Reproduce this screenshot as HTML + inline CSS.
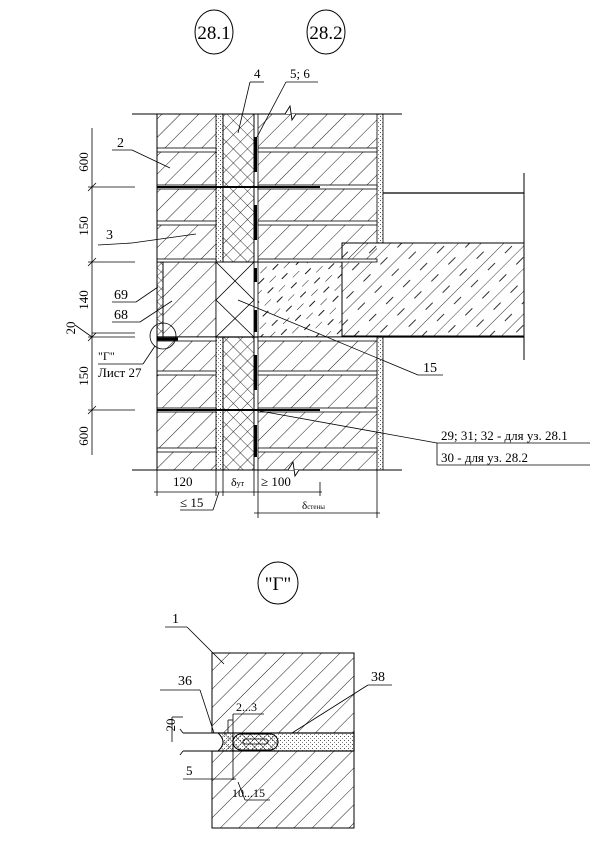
<!DOCTYPE html>
<html><head><meta charset="utf-8"><style>
html,body{margin:0;padding:0;background:#fff;}
svg{display:block;}
text{font-family:"Liberation Serif","DejaVu Serif",serif;fill:#000;}
</style></head><body>
<svg width="603" height="858" viewBox="0 0 603 858" xmlns="http://www.w3.org/2000/svg">
<defs>
<pattern id="h" patternUnits="userSpaceOnUse" width="13" height="13" patternTransform="rotate(45)">
<line x1="0" y1="0" x2="0" y2="13" stroke="#000" stroke-width="0.9"/></pattern>
<pattern id="hd" patternUnits="userSpaceOnUse" width="13" height="20" patternTransform="rotate(45)">
<line x1="0" y1="0" x2="0" y2="9" stroke="#000" stroke-width="0.9"/><line x1="6.5" y1="10" x2="6.5" y2="18" stroke="#000" stroke-width="0.9"/></pattern>
<pattern id="hs" patternUnits="userSpaceOnUse" width="16" height="24" patternTransform="rotate(45)">
<line x1="0" y1="0" x2="0" y2="24" stroke="#000" stroke-width="0.8"/><line x1="8" y1="4" x2="8" y2="14" stroke="#000" stroke-width="0.8"/></pattern>
<pattern id="x" patternUnits="userSpaceOnUse" width="10" height="10" patternTransform="rotate(45)">
<line x1="0" y1="0" x2="0" y2="10" stroke="#000" stroke-width="0.8"/><line x1="0" y1="0" x2="10" y2="0" stroke="#000" stroke-width="0.8"/></pattern>
<pattern id="xs" patternUnits="userSpaceOnUse" width="6" height="6" patternTransform="rotate(45)">
<line x1="0" y1="0" x2="0" y2="6" stroke="#000" stroke-width="0.7"/><line x1="0" y1="0" x2="6" y2="0" stroke="#000" stroke-width="0.7"/></pattern>
<pattern id="d" patternUnits="userSpaceOnUse" width="4" height="4">
<rect width="4" height="4" fill="#fff"/><rect x="0" y="0" width="1" height="1" fill="#555"/><rect x="2" y="2" width="1" height="1" fill="#888"/></pattern>
</defs>

<!-- top labels -->
<ellipse cx="214" cy="32" rx="19" ry="22" fill="none" stroke="#000"/>
<text x="214" y="39" font-size="19" text-anchor="middle">28.1</text>
<ellipse cx="326" cy="32" rx="19" ry="22" fill="none" stroke="#000"/>
<text x="326" y="39" font-size="19" text-anchor="middle">28.2</text>
<text x="254" y="78" font-size="13">4</text>
<line x1="250" y1="82" x2="264" y2="82" stroke="#000" stroke-width="0.8"/>
<line x1="250" y1="82" x2="238" y2="133" stroke="#000" stroke-width="0.8"/>
<text x="290" y="78" font-size="13">5; 6</text>
<line x1="286" y1="82" x2="318" y2="82" stroke="#000" stroke-width="0.8"/>
<line x1="286" y1="82" x2="257" y2="137" stroke="#000" stroke-width="0.8"/>

<!-- inner leaf -->
<rect x="157" y="114" width="59" height="148" fill="url(#h)"/>
<rect x="157" y="337" width="59" height="133" fill="url(#h)"/>
<!-- mortar gap -->
<rect x="216" y="114" width="7" height="148" fill="url(#d)" stroke="#000" stroke-width="0.8"/>
<rect x="216" y="337" width="7" height="133" fill="url(#d)" stroke="#000" stroke-width="0.8"/>
<!-- insulation -->
<rect x="223" y="114" width="31" height="148" fill="url(#x)" stroke="#000" stroke-width="0.8"/>
<rect x="223" y="337" width="31" height="133" fill="url(#x)" stroke="#000" stroke-width="0.8"/>
<!-- outer leaf -->
<rect x="258" y="114" width="119" height="148" fill="url(#h)"/>
<rect x="258" y="337" width="119" height="133" fill="url(#h)"/>
<rect x="258" y="262" width="84" height="75" fill="url(#hd)"/>
<!-- plaster -->
<rect x="377" y="114" width="6" height="129" fill="url(#d)" stroke="#000" stroke-width="0.8"/>
<rect x="377" y="337" width="6" height="133" fill="url(#d)" stroke="#000" stroke-width="0.8"/>
<!-- vapor line -->
<line x1="254" y1="114" x2="254" y2="470" stroke="#000" stroke-width="0.8"/>
<line x1="258" y1="114" x2="258" y2="470" stroke="#000" stroke-width="0.8"/>
<g fill="#000">
<rect x="254" y="137" width="3" height="35"/><rect x="254" y="205" width="3" height="35"/>
<rect x="254" y="268" width="3" height="14"/><rect x="254" y="310" width="3" height="22"/>
<rect x="254" y="355" width="3" height="35"/><rect x="254" y="425" width="3" height="32"/>
</g>
<!-- slab zone in wall -->
<rect x="157" y="262" width="6" height="75" fill="url(#xs)" stroke="#000" stroke-width="0.8"/>
<rect x="163" y="262" width="53" height="75" fill="url(#h)" stroke="#000" stroke-width="0.8"/>
<rect x="216" y="262" width="38" height="75" fill="#fff" stroke="#000" stroke-width="0.8"/>
<path d="M216 262 L254 300 L216 337 M254 262 L216 300 L254 337" stroke="#000" stroke-width="0.8" fill="none"/>
<!-- slab -->
<rect x="342" y="243" width="182" height="93" fill="url(#hs)" stroke="#000" stroke-width="1"/>
<line x1="383" y1="193" x2="524" y2="193" stroke="#000" stroke-width="1.2"/>
<line x1="524" y1="173" x2="524" y2="360" stroke="#000" stroke-width="1"/>
<line x1="157" y1="337" x2="524" y2="337" stroke="#000" stroke-width="1.2"/>
<line x1="157" y1="262" x2="342" y2="262" stroke="#000" stroke-width="1"/>

<!-- joints -->
<g fill="#fff" stroke="#000" stroke-width="0.8">
<rect x="157" y="148" width="59" height="4"/><rect x="258" y="148" width="119" height="4"/>
<rect x="157" y="185" width="59" height="4"/><rect x="258" y="185" width="119" height="4"/>
<rect x="157" y="221" width="59" height="4"/><rect x="258" y="221" width="119" height="4"/>
<rect x="157" y="259" width="59" height="3"/><rect x="258" y="259" width="119" height="3"/>
<rect x="157" y="337" width="59" height="4"/><rect x="258" y="337" width="119" height="4"/>
<rect x="157" y="371" width="59" height="4"/><rect x="258" y="371" width="119" height="4"/>
<rect x="157" y="408" width="59" height="4"/><rect x="258" y="408" width="119" height="4"/>
<rect x="157" y="448" width="59" height="4"/><rect x="258" y="448" width="119" height="4"/>
</g>
<line x1="157" y1="187" x2="320" y2="187" stroke="#000" stroke-width="2"/>
<line x1="157" y1="410" x2="320" y2="410" stroke="#000" stroke-width="2"/>
<line x1="157" y1="339" x2="178" y2="339" stroke="#000" stroke-width="3"/>
<!-- outline -->
<line x1="132" y1="114" x2="402" y2="114" stroke="#000" stroke-width="1"/>
<line x1="132" y1="470" x2="402" y2="470" stroke="#000" stroke-width="1"/>
<line x1="157" y1="114" x2="157" y2="470" stroke="#000" stroke-width="1"/>
<path d="M285 114 L290 106 L292 120 L296 114" fill="#fff" stroke="#000" stroke-width="0.9"/>
<path d="M288 470 L293 462 L295 476 L299 470" fill="#fff" stroke="#000" stroke-width="0.9"/>

<!-- left dimensions -->
<line x1="92" y1="128" x2="92" y2="455" stroke="#000" stroke-width="0.8"/>
<g stroke="#000" stroke-width="0.8">
<line x1="88" y1="187" x2="135" y2="187"/><line x1="88" y1="262" x2="135" y2="262"/>
<line x1="88" y1="337" x2="135" y2="337"/><line x1="92" y1="333" x2="135" y2="333"/>
<line x1="88" y1="410" x2="135" y2="410"/><line x1="75" y1="325" x2="92" y2="337"/>
<line x1="88" y1="191" x2="96" y2="183"/><line x1="88" y1="266" x2="96" y2="258"/>
<line x1="88" y1="341" x2="96" y2="333"/><line x1="88" y1="414" x2="96" y2="406"/>
</g>
<g font-size="13">
<text transform="translate(88 162) rotate(-90)" text-anchor="middle">600</text>
<text transform="translate(88 226) rotate(-90)" text-anchor="middle">150</text>
<text transform="translate(88 300) rotate(-90)" text-anchor="middle">140</text>
<text transform="translate(75 328) rotate(-90)" text-anchor="middle">20</text>
<text transform="translate(88 376) rotate(-90)" text-anchor="middle">150</text>
<text transform="translate(88 436) rotate(-90)" text-anchor="middle">600</text>
</g>
<!-- left labels -->
<g font-size="14" stroke-width="0.8">
<text x="117" y="147">2</text><line x1="112" y1="150" x2="132" y2="150" stroke="#000"/><line x1="132" y1="150" x2="170" y2="168" stroke="#000"/>
<text x="106" y="239">3</text><line x1="98" y1="245" x2="132" y2="243" stroke="#000"/><line x1="132" y1="243" x2="196" y2="234" stroke="#000"/>
<text x="114" y="299">69</text><line x1="112" y1="302" x2="136" y2="302" stroke="#000"/><line x1="136" y1="302" x2="158" y2="287" stroke="#000"/>
<text x="114" y="319">68</text><line x1="112" y1="322" x2="140" y2="322" stroke="#000"/><line x1="140" y1="322" x2="172" y2="301" stroke="#000"/>
<text x="98" y="360" font-size="12">"Г"</text>
<line x1="98" y1="364" x2="143" y2="364" stroke="#000"/>
<text x="98" y="377" font-size="13">Лист 27</text>
<line x1="143" y1="364" x2="155" y2="346" stroke="#000"/>
</g>
<circle cx="163" cy="336" r="13" fill="none" stroke="#000" stroke-width="0.8"/>

<!-- right labels -->
<line x1="238" y1="300" x2="418" y2="375" stroke="#000" stroke-width="0.8"/>
<text x="423" y="372" font-size="14">15</text><line x1="418" y1="375" x2="443" y2="375" stroke="#000" stroke-width="0.8"/>
<line x1="260" y1="411" x2="437" y2="443" stroke="#000" stroke-width="0.8"/>
<text x="441" y="440" font-size="13">29; 31; 32 - для уз. 28.1</text>
<line x1="437" y1="443" x2="590" y2="443" stroke="#000" stroke-width="0.8"/>
<line x1="437" y1="443" x2="437" y2="465" stroke="#000" stroke-width="0.8"/>
<text x="441" y="462" font-size="13">30 - для уз. 28.2</text>
<line x1="437" y1="465" x2="590" y2="465" stroke="#000" stroke-width="0.8"/>

<!-- bottom dims -->
<g stroke="#000" stroke-width="0.8">
<line x1="157" y1="470" x2="157" y2="496"/><line x1="216" y1="470" x2="216" y2="496"/>
<line x1="223" y1="470" x2="223" y2="496"/><line x1="254" y1="470" x2="254" y2="496"/>
<line x1="258" y1="470" x2="258" y2="518"/><line x1="320" y1="482" x2="320" y2="496"/>
<line x1="377" y1="470" x2="377" y2="518"/>
<line x1="154" y1="492" x2="322" y2="492"/>
<line x1="254" y1="513" x2="380" y2="513"/>
<line x1="213" y1="510" x2="219" y2="492"/><line x1="180" y1="510" x2="213" y2="510"/>
</g>
<text x="173" y="486" font-size="13">120</text>
<text x="231" y="486" font-size="12">δ<tspan font-size="8">ут</tspan></text>
<text x="261" y="486" font-size="13">≥ 100</text>
<text x="180" y="507" font-size="13">≤ 15</text>
<text x="302" y="509" font-size="11">δ<tspan font-size="7">стены</tspan></text>

<!-- detail Г -->
<ellipse cx="278" cy="583" rx="20" ry="21" fill="none" stroke="#000"/>
<text x="278" y="590" font-size="19" text-anchor="middle">"Г"</text>
<text x="172" y="623" font-size="14">1</text>
<line x1="165" y1="627" x2="187" y2="627" stroke="#000" stroke-width="0.8"/>
<line x1="187" y1="627" x2="224" y2="664" stroke="#000" stroke-width="0.8"/>
<rect x="212" y="653" width="142" height="175" fill="url(#h)" stroke="#000" stroke-width="1"/>
<rect x="212" y="733" width="142" height="18" fill="url(#d)" stroke="#000" stroke-width="1.2"/>
<path d="M212 733 L233 733 L233 751 L212 751 Q224 742 212 733Z" fill="url(#xs)" stroke="#000" stroke-width="0.8"/>
<rect x="233" y="734" width="45" height="16" rx="8" fill="url(#xs)" stroke="#000" stroke-width="1"/>
<rect x="243" y="739" width="25" height="5" rx="2.5" fill="none" stroke="#000" stroke-width="0.8"/>
<path d="M183 733 L218 733 Q228 742 218 751 L183 751" fill="#fff" stroke="#000" stroke-width="1"/>
<path d="M183 733 l-3 -4 M183 751 l-3 4" stroke="#000" stroke-width="0.8"/>
<text x="178" y="685" font-size="14">36</text>
<line x1="160" y1="690" x2="200" y2="690" stroke="#000" stroke-width="0.8"/>
<line x1="200" y1="690" x2="214" y2="733" stroke="#000" stroke-width="0.8"/>
<text x="371" y="681" font-size="14">38</text>
<line x1="368" y1="685" x2="392" y2="685" stroke="#000" stroke-width="0.8"/>
<line x1="368" y1="685" x2="292" y2="733" stroke="#000" stroke-width="0.8"/>
<g stroke="#000" stroke-width="0.8">
<line x1="228" y1="720" x2="228" y2="733"/><line x1="233" y1="714" x2="233" y2="780"/>
<line x1="228" y1="720" x2="233" y2="720"/><line x1="233" y1="714" x2="264" y2="714"/>
<line x1="212" y1="751" x2="212" y2="780"/><line x1="183" y1="779" x2="236" y2="779"/>
<line x1="238" y1="782" x2="245" y2="800"/><line x1="245" y1="800" x2="270" y2="800"/>
<line x1="183" y1="717" x2="172" y2="717"/><line x1="172" y1="717" x2="172" y2="742"/>
</g>
<text x="236" y="711" font-size="12">2...3</text>
<text transform="translate(175 725) rotate(-90)" font-size="13" text-anchor="middle">20</text>
<text x="186" y="775" font-size="13">5</text>
<text x="232" y="797" font-size="12">10...15</text>
</svg>
</body></html>
